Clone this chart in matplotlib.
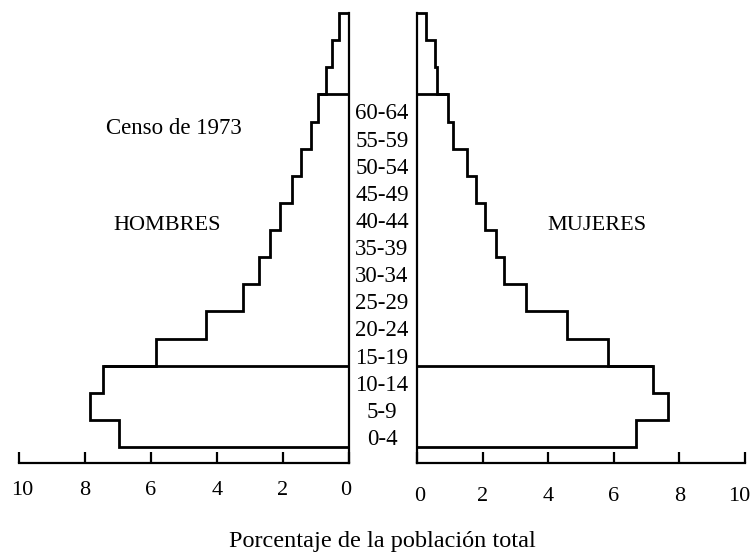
import matplotlib
matplotlib.use("Agg")
import matplotlib.pyplot as plt
import matplotlib.transforms as mtransforms
import numpy as np

plt.rcParams['font.family'] = ['Liberation Serif', 'DejaVu Serif']

# Age groups (bottom to top)
age_groups = ['0-4', '5-9', '10-14', '15-19', '20-24', '25-29', '30-34',
              '35-39', '40-44', '45-49', '50-54', '55-59', '60-64',
              '65-69', '70-74', '75+']
labelled_groups = age_groups[:13]

# Percentage of total population
hombres = [6.97, 7.85, 7.45, 5.85, 4.33, 3.21, 2.73, 2.39, 2.09, 1.73,
           1.45, 1.15, 0.94, 0.70, 0.52, 0.30]
mujeres = [6.67, 7.64, 7.21, 5.82, 4.58, 3.33, 2.64, 2.42, 2.06, 1.79,
           1.52, 1.09, 0.95, 0.61, 0.55, 0.27]

# Boundaries that get a full horizontal line (ages 15 and 65)
divisions = [3, 13]

x_ticks = [0, 2, 4, 6, 8, 10]

W, H = 754, 554
fig = plt.figure(figsize=(W / 100, H / 100), dpi=100)

def fx(px):
    return px / W

def fy(py):
    return 1 - py / H

ax_bottom_px, ax_top_px = 463, 13
ylo = -(463 - 447) / 27.125
ax_l = fig.add_axes([fx(19), fy(ax_bottom_px), fx(349) - fx(19), fy(ax_top_px) - fy(ax_bottom_px)])
ax_r = fig.add_axes([fx(417), fy(ax_bottom_px), fx(745) - fx(417), fy(ax_top_px) - fy(ax_bottom_px)])

edges = np.arange(len(age_groups) + 1)
lw = 2.0
for ax, vals, side in [(ax_l, hombres, 'left'), (ax_r, mujeres, 'right')]:
    ax.stairs(vals, edges, orientation='horizontal', baseline=0, fill=False,
              color='black', linewidth=lw, clip_on=False)
    ax.hlines([d for d in divisions], 0, [vals[d - 1] for d in divisions],
              color='black', linewidth=lw, clip_on=False)
    ax.set_ylim(ylo, len(age_groups))
    ax.set_yticks([])
    ax.set_xticks(x_ticks)
    ax.set_xticklabels([str(t) for t in x_ticks], fontsize=16)
    ax.tick_params(axis='x', direction='in', length=8, width=1.6, color='black')
    for s in ['top', 'left', 'right', 'bottom']:
        ax.spines[s].set_visible(False)
    ax.spines['bottom'].set_visible(True)
    ax.spines['bottom'].set_linewidth(1.6)
    if side == 'left':
        ax.set_xlim(10, 0)
        ax.spines['right'].set_visible(True)
        ax.spines['right'].set_linewidth(1.6)
        ax.tick_params(axis='x', pad=13)
    else:
        ax.set_xlim(0, 10)
        ax.spines['left'].set_visible(True)
        ax.spines['left'].set_linewidth(1.6)
        ax.tick_params(axis='x', pad=17)
    ax.patch.set_visible(False)

# Nudge the outermost labels inward like the reference
lbl_r = ax_r.get_xticklabels()
lbl_r[-1].set_horizontalalignment('right')
lbl_r[-1].set_transform(lbl_r[-1].get_transform() +
                        mtransforms.ScaledTranslation(5 / 100, 0, fig.dpi_scale_trans))
lbl_r[0].set_transform(lbl_r[0].get_transform() +
                       mtransforms.ScaledTranslation(3 / 100, 0, fig.dpi_scale_trans))
lbl_l = ax_l.get_xticklabels()
lbl_l[0].set_transform(lbl_l[0].get_transform() +
                       mtransforms.ScaledTranslation(-3 / 100, 0, fig.dpi_scale_trans))
lbl_l[-1].set_transform(lbl_l[-1].get_transform() +
                        mtransforms.ScaledTranslation(3 / 100, 0, fig.dpi_scale_trans))

# Age labels in the centre
trans = mtransforms.blended_transform_factory(fig.transFigure, ax_l.transData)
for i, lab in enumerate(labelled_groups):
    fig.text(fx(382), i + 0.28, lab, transform=trans, ha='center', va='center',
             fontsize=16.5)

fig.text(fx(174), fy(128), 'Censo de 1973', ha='center', va='center', fontsize=16.5)
fig.text(fx(167), fy(225), 'HOMBRES', ha='center', va='center', fontsize=16)
fig.text(fx(597), fy(226), 'MUJERES', ha='center', va='center', fontsize=16)
fig.text(fx(382), fy(541), 'Porcentaje de la población total', ha='center',
         va='center', fontsize=17.5)

fig.savefig('out.png', dpi=100)
